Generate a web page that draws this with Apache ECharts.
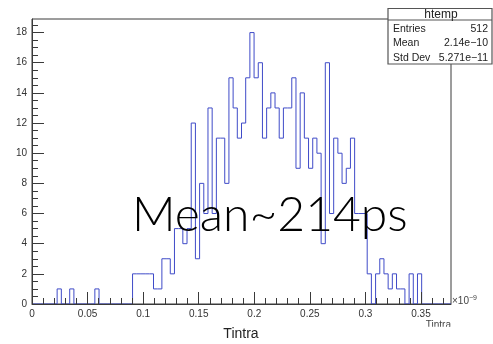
<!DOCTYPE html>
<html>
<head>
<meta charset="utf-8">
<script src="https://cdn.jsdelivr.net/npm/echarts@6/dist/echarts.min.js"></script>
<style>
  html, body { margin: 0; padding: 0; background: #fff; }
  #chart { width: 493px; height: 344px; }
</style>
</head>
<body>
<div id="chart"></div>
<script>
// Tintra histogram: 100 bins from 0 to 0.377 (x10^-9)
const binCount = 100;
const xLow = 0;
const xHigh = 0.377;
const counts = [
  0, 0, 0, 0, 0, 0, 1, 0, 0, 1,
  0, 0, 0, 0, 0, 1, 0, 0, 0, 0,
  0, 0, 0, 0, 2, 2, 2, 2, 2, 1,
  1, 3, 3, 2, 5, 5, 4, 5, 12, 3,
  8, 6, 13, 6, 11, 11, 8, 15, 13, 11,
  12, 15, 18, 15, 16, 11, 13, 14, 13, 11,
  13, 13, 15, 9, 14, 11, 9, 11, 10, 4,
  16, 6, 11, 10, 8, 9, 11, 6, 6, 6,
  2, 0, 2, 3, 2, 1, 2, 1, 1, 0,
  2, 0, 2, 0, 0, 0, 0, 0, 0, 0
];
const yTop = 18.9;

// tick values
const xMajorTicks = [0, 0.05, 0.1, 0.15, 0.2, 0.25, 0.3, 0.35];
const xMinorTicks = [0.01, 0.02, 0.03, 0.04, 0.06, 0.07, 0.08, 0.09,
  0.11, 0.12, 0.13, 0.14, 0.16, 0.17, 0.18, 0.19, 0.21, 0.22, 0.23, 0.24,
  0.26, 0.27, 0.28, 0.29, 0.31, 0.32, 0.33, 0.34, 0.36, 0.37];
const yMajorTicks = [0, 2, 4, 6, 8, 10, 12, 14, 16, 18];
const yMinorTicks = [0.5, 1, 1.5, 2.5, 3, 3.5, 4.5, 5, 5.5, 6.5, 7, 7.5,
  8.5, 9, 9.5, 10.5, 11, 11.5, 12.5, 13, 13.5, 14.5, 15, 15.5,
  16.5, 17, 17.5, 18.5];

// stats box
const statsTitle = 'htemp';
const statsNames = ['Entries', 'Mean', 'Std Dev'];
const statsValues = ['512', '2.14e\u221210', '5.271e\u221211'];

const overlayText = 'Mean~214ps';
const axisTitle = 'Tintra';

// outline points at bin edges, stepped
const binWidth = (xHigh - xLow) / binCount;
const outline = counts.map((c, i) => [xLow + i * binWidth, c]);
outline.push([xHigh, counts[binCount - 1]]);

const FONT = '"Liberation Sans", Arial, sans-serif';
const AX = '#3a3a3a';

const chart = echarts.init(document.getElementById('chart'), null, { renderer: 'canvas' });

function majorX(extra) {
  return Object.assign({
    type: 'value', min: xLow, max: xHigh, position: 'bottom', z: 5,
    splitLine: { show: false }
  }, extra);
}
function majorY(extra) {
  return Object.assign({
    type: 'value', min: 0, max: yTop, position: 'left', z: 5,
    splitLine: { show: false }
  }, extra);
}

const statsChildren = [
  { type: 'rect', shape: { x: 388, y: 8.5, width: 104, height: 55.5 },
    style: { fill: '#fff', stroke: '#555', lineWidth: 1.2 } },
  { type: 'line', shape: { x1: 388, y1: 20, x2: 492, y2: 20 },
    style: { stroke: '#555', lineWidth: 1 } },
  { type: 'text', style: { x: 441, y: 14.3, text: statsTitle, font: '12px ' + FONT,
    fill: '#222', textAlign: 'center', textVerticalAlign: 'middle' } }
];
statsNames.forEach((n, i) => {
  const y = 29 + i * 14.4;
  statsChildren.push({ type: 'text', style: { x: 393, y: y, text: n, font: '10.5px ' + FONT,
    fill: '#222', textAlign: 'left', textVerticalAlign: 'middle' } });
  statsChildren.push({ type: 'text', style: { x: 488, y: y, text: statsValues[i], font: '10.5px ' + FONT,
    fill: '#222', textAlign: 'right', textVerticalAlign: 'middle' } });
});

chart.setOption({
  animation: false,
  backgroundColor: '#fff',
  grid: { left: 32, top: 19, width: 419, height: 285, show: true,
    borderColor: AX, borderWidth: 1, backgroundColor: 'transparent' },
  xAxis: [
    majorX({
      axisLine: { show: true, lineStyle: { color: AX, width: 1 } },
      axisTick: { show: true, inside: true, length: 12, customValues: xMajorTicks,
        lineStyle: { color: AX, width: 1 } },
      axisLabel: { show: true, customValues: xMajorTicks, margin: 5,
        fontFamily: FONT, fontSize: 10, color: '#333', formatter: v => String(v) }
    }),
    majorX({
      axisLine: { show: false },
      axisTick: { show: true, inside: true, length: 6, customValues: xMinorTicks,
        lineStyle: { color: AX, width: 1 } },
      axisLabel: { show: false }
    })
  ],
  yAxis: [
    majorY({
      axisLine: { show: true, lineStyle: { color: AX, width: 1 } },
      axisTick: { show: true, inside: true, length: 12, customValues: yMajorTicks,
        lineStyle: { color: AX, width: 1 } },
      axisLabel: { show: true, customValues: yMajorTicks, margin: 5,
        fontFamily: FONT, fontSize: 10, color: '#333', formatter: v => String(v) }
    }),
    majorY({
      axisLine: { show: false },
      axisTick: { show: true, inside: true, length: 6, customValues: yMinorTicks,
        lineStyle: { color: AX, width: 1 } },
      axisLabel: { show: false }
    })
  ],
  series: [{
    type: 'line', xAxisIndex: 0, yAxisIndex: 0, step: 'end',
    data: outline, showSymbol: false, symbol: 'none', z: 2,
    lineStyle: { color: '#3f4bc8', width: 1 },
    silent: true
  }],
  graphic: [
    // exponent marker at the end of the x axis
    { type: 'text', z: 10, style: { x: 452, y: 301, text: '{a|\u00d710}{b|\u22129}',
      textVerticalAlign: 'middle', textAlign: 'left',
      rich: { a: { font: '10px ' + FONT, fill: '#444' },
              b: { font: '7px ' + FONT, fill: '#444', verticalAlign: 'top', padding: [0, 0, 6, 0] } } } },
    // small axis title at the right end (lower part hidden)
    { type: 'text', z: 10, style: { x: 451, y: 325.5, text: axisTitle, font: '10px ' + FONT,
      fill: '#444', textAlign: 'right', textVerticalAlign: 'middle' } },
    { type: 'rect', z: 11, shape: { x: 415, y: 326.7, width: 45, height: 12 },
      style: { fill: '#fff' } },
    // large axis title
    { type: 'text', z: 10, style: { x: 241, y: 334, text: axisTitle, font: '14px ' + FONT,
      fill: '#222', textAlign: 'center', textVerticalAlign: 'middle' } },
    // annotation
    { type: 'text', z: 20, style: { x: 132, y: 216, text: overlayText,
      font: '300 48px Lato, "Open Sans", sans-serif',
      fill: '#000', textAlign: 'left', textVerticalAlign: 'middle' } },
    // statistics box
    { type: 'group', z: 30, children: statsChildren }
  ]
});
</script>
</body>
</html>
